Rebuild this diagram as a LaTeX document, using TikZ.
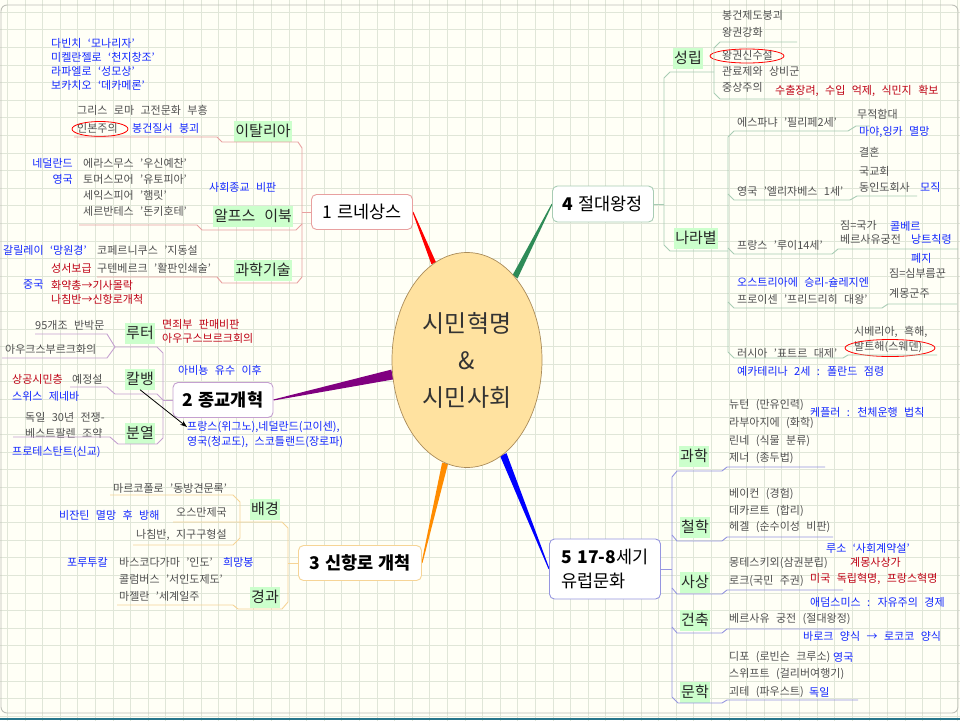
\documentclass[tikz,border=0pt]{standalone}
\usepackage{fontspec}
\setmainfont{Noto Sans CJK KR}[WordSpace=2.6]
\newfontfamily\topicfont{Noto Sans CJK KR}[WordSpace=1.3]
\usetikzlibrary{shapes.geometric,calc,arrows.meta,backgrounds}
\definecolor{paper}{RGB}{255,255,246}
\definecolor{gridc}{RGB}{224,230,216}
\definecolor{framec}{RGB}{190,192,184}
\definecolor{stripc}{RGB}{40,118,140}
\definecolor{txtgray}{RGB}{80,80,80}
\definecolor{txtblue}{RGB}{20,40,255}
\definecolor{txtred}{RGB}{190,0,20}
\definecolor{subfill}{RGB}{204,255,204}
\definecolor{corefill}{RGB}{255,226,160}
\definecolor{coreline}{RGB}{170,140,90}
\definecolor{renline}{RGB}{232,160,160}
\definecolor{refline}{RGB}{196,160,208}
\definecolor{routeline}{RGB}{246,212,150}
\definecolor{absline}{RGB}{168,204,180}
\definecolor{culline}{RGB}{150,150,224}
\definecolor{wgreen}{RGB}{46,139,87}
\definecolor{wpurple}{RGB}{128,0,128}
\definecolor{worange}{RGB}{255,140,0}

\begin{document}
\begin{tikzpicture}[x=1pt,y=-1pt,
  gt/.style={anchor=west, inner sep=0pt, text=txtgray, font=\fontsize{11}{13}\selectfont},
  bt/.style={gt, text=txtblue},
  rt/.style={gt, text=txtred},
  sub/.style={fill=subfill, inner xsep=1.5pt, inner ysep=3.5pt, minimum height=21pt,
    text=black!85, font=\fontsize{15}{17}\selectfont},
  topic/.style={rectangle, rounded corners=5pt, fill=white, line width=0.9pt,
    inner sep=4pt, font=\topicfont\fontsize{17.5}{24}\selectfont},
  twig/.style={line width=0.9pt},
  ring/.style={ellipse, draw=red, line width=0.8pt, inner sep=0pt}
]
\useasboundingbox (0,0) rectangle (960,720);

% 중심
\node[ellipse, fill=corefill, draw=coreline, line width=0.7pt, minimum width=150pt,
  minimum height=215pt, align=center, text=black!80,
  font=\fontsize{24}{37}\selectfont] (core) at (467,360) {시민혁명\\\&\\시민사회};

% 다섯 갈래
\node[topic, draw=renline, minimum width=101pt, minimum height=35pt] (ren) at (362,212) {1 르네상스};
\node[topic, draw=refline, minimum width=100pt, minimum height=35pt, font=\topicfont\fontsize{17.5}{24}\selectfont\bfseries] (ref) at (223,400) {2 종교개혁};
\node[topic, draw=routeline, minimum width=123pt, minimum height=35pt, font=\topicfont\fontsize{17.5}{24}\selectfont\bfseries] (route) at (360,563) {3 신항로 개척};
\node[topic, draw=absline, minimum width=101pt, minimum height=36pt] (abs) at (603,204) {\textbf{4} 절대왕정};
\node[topic, draw=culline, minimum width=111pt, minimum height=60pt, align=left] (cul) at (605,569) {\textbf{5 17-8}세기\\유럽문화};

\begin{scope}[on background layer]
  \fill[paper] (0,0) rectangle (960,720);
  \draw[gridc, line width=0.6pt, shift={(7.3,12)}] (-20,720) grid[step=17.6pt] (960,-20);
  \draw[framec, line width=0.9pt, rounded corners=6pt] (1,5) rectangle (958,713);
  \fill[stripc] (0,717.5) rectangle (960,720);
  \fill[red] ($(ren.east)!0.5pt!90:(core.109)$) -- ($(ren.east)!0.5pt!-90:(core.109)$)
    -- ($(core.109)!2.5pt!90:(ren.east)$) -- ($(core.109)!2.5pt!-90:(ren.east)$) -- cycle;
  \fill[wgreen] ($(abs.west)!0.5pt!90:(core.60)$) -- ($(abs.west)!0.5pt!-90:(core.60)$)
    -- ($(core.60)!3pt!90:(abs.west)$) -- ($(core.60)!3pt!-90:(abs.west)$) -- cycle;
  \fill[wpurple] ($(ref.east)!0.5pt!90:(core.191)$) -- ($(ref.east)!0.5pt!-90:(core.191)$)
    -- ($(core.191)!5pt!90:(ref.east)$) -- ($(core.191)!5pt!-90:(ref.east)$) -- cycle;
  \fill[worange] ($(route.east)!0.5pt!90:(core.258)$) -- ($(route.east)!0.5pt!-90:(core.258)$)
    -- ($(core.258)!3pt!90:(route.east)$) -- ($(core.258)!3pt!-90:(route.east)$) -- cycle;
  \fill[blue] ($(cul.west)!0.5pt!90:(core.291)$) -- ($(cul.west)!0.5pt!-90:(core.291)$)
    -- ($(core.291)!3.5pt!90:(cul.west)$) -- ($(core.291)!3.5pt!-90:(cul.west)$) -- cycle;
\end{scope}

% 1 르네상스
\node[sub] (ita) at (263,131) {이탈리아};
\node[sub] (alps) at (253,216) {알프스 이북};
\node[sub] (tech) at (263,270) {과학기술};
\node[bt] (art1) at (51,43) {다빈치 ‘모나리자’};
\node[bt] (art2) at (51,57) {미켈란젤로 ‘천지창조’};
\node[bt] (art3) at (51,71) {라파엘로 ‘성모상’};
\node[bt] (art4) at (51,85) {보카치오 ‘데카메론’};
\node[gt] (ita1) at (77,110) {그리스 로마 고전문화 부흥};
\node[gt] (ita2) at (77,128) {인본주의};
\node[bt] (ita3) at (132,128) {봉건질서 붕괴};
\node[ring, minimum width=56pt, minimum height=15pt] (ring1) at (100,129) {};
\node[bt, anchor=east] (nl) at (73,163) {네덜란드};
\node[bt, anchor=east] (uk) at (73,179) {영국};
\node[gt] (alp1) at (83,163) {에라스무스 '우신예찬'};
\node[gt] (alp2) at (83,179) {토머스모어 '유토피아'};
\node[gt] (alp3) at (83,195) {세익스피어 '햄릿'};
\node[gt] (alp4) at (83,211) {세르반테스 '돈키호테'};
\node[bt] (alp5) at (209,187) {사회종교 비판};
\node[bt] (tec1) at (3,250) {갈릴레이 ‘망원경’};
\node[gt] (tec2) at (97,250) {코페르니쿠스 '지동설};
\node[rt] (tec3) at (51,268) {성서보급};
\node[gt] (tec4) at (97,268) {구텐베르크 '활판인쇄술'};
\node[bt] (tec5) at (23,285) {중국};
\node[rt] (tec6) at (51,285) {화약총→기사몰락};
\node[rt] (tec7) at (51,299) {나침반→신항로개척};
\draw[twig, renline] (74,137) -- (217,137) -- (222,142) -- (298,142) -- (302,148) -- (302,277)
  -- (297,283) -- (222,283) -- (217,277) -- (97,277);
\draw[twig, renline] (79,225) -- (197,225) -- (202,230) -- (296,230) -- (302,224);
\draw[twig, renline] (ren.west) -- (302,212);

% 2 종교개혁
\node[sub] (luther) at (140,333) {루터};
\node[sub] (calvin) at (140,379) {칼뱅};
\node[sub] (split) at (140,433) {분열};
\node[gt] (lut1) at (35,325) {95개조 반박문};
\node[gt] (lut2) at (5,349) {아우크스부르크화의};
\node[rt] (lut3) at (162,324) {면죄부 판매비판};
\node[rt] (lut4) at (162,338) {아우구스브르크회의};
\node[rt] (cal1) at (12,379) {상공시민층};
\node[gt] (cal2) at (72,379) {예정설};
\node[bt] (cal3) at (12,396) {스위스 제네바};
\node[bt] (avi) at (178,370) {아비뇽 유수 이후};
\node[bt] (spread1) at (187,427) {프랑스(위그노),네덜란드(고이센),};
\node[bt] (spread2) at (187,442) {영국(청교도), 스코틀랜드(장로파)};
\node[gt] (spl1) at (25,417) {독일 30년 전쟁-};
\node[gt] (spl2) at (25,433) {베스트팔렌 조약};
\node[bt] (spl3) at (12,452) {프로테스탄트(신교)};
\draw[twig, refline] (35,334) -- (107,334) -- (115,347) -- (157,347) -- (163,353) -- (163,438)
  -- (157,444) -- (118,444) -- (110,437) -- (13,437);
\draw[twig, refline] (2,358) -- (107,358) -- (115,347);
\draw[twig, refline] (70,387) -- (107,387) -- (115,394) -- (157,394) -- (163,400);
\draw[twig, refline] (ref.west) -- (163,400);
\draw[-{Stealth[length=7pt,width=5pt]}, line width=0.8pt] (calvin.south) -- (spread1.west);

% 3 신항로 개척
\node[sub] (cause) at (265,509) {배경};
\node[sub] (course) at (265,597) {경과};
\node[gt] (cau1) at (113,488) {마르코폴로 '동방견문록'};
\node[gt] (cau2) at (176,512) {오스만제국};
\node[bt] (cau3) at (59,515) {비잔틴 멸망 후 방해};
\node[gt] (cau4) at (136,535) {나침반, 지구구형설};
\node[bt] (cou1) at (67,562) {포루투칼};
\node[gt] (cou2) at (119,562) {바스코다가마 '인도'};
\node[bt] (cou3) at (223,562) {희망봉};
\node[gt] (cou4) at (119,579) {콜럼버스 '서인도제도'};
\node[gt] (cou5) at (119,596) {마젤란 '세계일주};
\draw[twig, routeline] (110,495) -- (233,495) -- (240,502) -- (240,538) -- (233,545) -- (133,545);
\draw[twig, routeline] (173,522) -- (282,522) -- (288,528) -- (288,602) -- (282,609) -- (238,609)
  -- (233,605) -- (117,605);
\draw[twig, routeline] (route.west) -- (288,563);

% 4 절대왕정
\node[sub] (rise) at (688,58) {성립};
\node[sub] (land) at (696,238) {나라별};
\node[gt] (ris1) at (722,15) {봉건제도붕괴};
\node[gt] (ris2) at (722,32) {왕권강화};
\node[gt] (ris3) at (722,55) {왕권신수설};
\node[ring, minimum width=74pt, minimum height=14pt] (ring2) at (747,56) {};
\node[gt] (ris4) at (722,71) {관료제와 상비군};
\node[gt] (ris5) at (722,87) {중상주의};
\node[rt] (ris6) at (775,91) {수출장려, 수입 억제, 식민지 확보};
\node[gt] (spa) at (737,122) {에스파냐 '필리페2세'};
\node[gt] (spa1) at (857,114) {무적함대};
\node[bt] (spa2) at (859,132) {마야,잉카 멸망};
\node[gt] (eng) at (737,191) {영국 '엘리자베스 1세'};
\node[gt] (eng1) at (859,152) {결혼};
\node[gt] (eng2) at (859,171) {국교회};
\node[gt] (eng3) at (859,187) {동인도회사};
\node[bt] (eng4) at (920,187) {모직};
\node[gt] (fra) at (737,245) {프랑스 '루이14세'};
\node[gt] (fra1) at (840,225) {짐=국가};
\node[bt] (fra2) at (890,226) {콜베르};
\node[gt] (fra3) at (840,239) {베르사유궁전};
\node[bt] (fra4) at (911,239) {낭트칙령};
\node[bt] (fra5) at (911,258) {폐지};
\node[bt] (pru0) at (737,282) {오스트리아에 승리-슐레지엔};
\node[gt] (pru) at (737,299) {프로이센 '프리드리히 대왕'};
\node[gt] (pru1) at (889,273) {짐=심부름꾼};
\node[gt] (pru2) at (889,293) {계몽군주};
\node[gt] (rus) at (737,353) {러시아 '표트르 대제'};
\node[gt] (rus1) at (854,332) {시베리아, 흑해,};
\node[gt] (rus2) at (854,347) {발트해(스웨덴)};
\node[ring, minimum width=90pt, minimum height=17pt] (ring3) at (890,348) {};
\node[bt] (rus3) at (737,371) {예카테리나 2세 : 폴란드 점령};
\draw[twig, absline] (797,42) -- (720,42) -- (714,48) -- (714,93) -- (720,99) -- (810,99);
\draw[twig, absline] (714,72) -- (670,72) -- (664,78) -- (664,245) -- (670,251) -- (728,251);
\draw[twig, absline] (abs.east) -- (664,204);
\draw[twig, absline] (870,126) -- (856,126) -- (848,131) -- (734,131) -- (728,137) -- (728,352)
  -- (734,358) -- (843,358) -- (848,355) -- (937,355);
\draw[twig, absline] (728,194) -- (734,200) -- (850,200) -- (857,196) -- (917,196);
\draw[twig, absline] (728,248) -- (734,254) -- (832,254) -- (838,249) -- (958,249);
\draw[twig, absline] (728,302) -- (734,308) -- (882,308) -- (888,304) -- (957,304);

% 5 17-8세기 유럽문화
\node[sub] (sci) at (694,456) {과학};
\node[sub] (phil) at (695,527) {철학};
\node[sub] (idea) at (695,582) {사상};
\node[sub] (arch) at (695,620) {건축};
\node[sub] (lit) at (695,692) {문학};
\node[gt] (sci1) at (729,405) {뉴턴 (만유인력)};
\node[gt] (sci2) at (729,423) {라부아지에 (화학)};
\node[gt] (sci3) at (729,441) {린네 (식물 분류)};
\node[gt] (sci4) at (729,458) {제너 (종두법)};
\node[bt] (sci5) at (810,412) {케플러 : 천체운행 법칙};
\node[gt] (phi1) at (729,494) {베이컨 (경험)};
\node[gt] (phi2) at (729,511) {데카르트 (합리)};
\node[gt] (phi3) at (729,527) {헤겔 (순수이성 비판)};
\node[bt] (ide1) at (826,548) {루소 ‘사회계약설’};
\node[rt] (ide2) at (850,562) {계몽사상가};
\node[gt] (ide3) at (729,563) {몽테스키외(삼권분립)};
\node[gt] (ide4) at (729,581) {로크(국민 주권)};
\node[rt] (ide5) at (810,579) {미국 독립혁명, 프랑스혁명};
\node[bt] (ide6) at (810,602) {애덤스미스 : 자유주의 경제};
\node[gt] (arc1) at (729,619) {베르사유 궁전 (절대왕정)};
\node[bt] (arc2) at (803,636) {바로크 양식 → 로코코 양식};
\node[gt] (lit1) at (729,657) {디포 (로빈슨 크루소)};
\node[bt] (lit2) at (833,657) {영국};
\node[gt] (lit3) at (729,674) {스위프트 (걸리버여행기)};
\node[gt] (lit4) at (729,692) {괴테 (파우스트)};
\node[bt] (lit5) at (809,692) {독일};
\draw[twig, culline] (825,467) -- (727,467) -- (722,471) -- (677,471) -- (672,477) -- (672,697)
  -- (678,703) -- (722,703) -- (727,700) -- (858,700);
\draw[twig, culline] (672,535) -- (677,541) -- (722,541) -- (727,537) -- (833,537);
\draw[twig, culline] (672,588) -- (677,594) -- (722,594) -- (727,590) -- (843,590);
\draw[twig, culline] (672,627) -- (677,633) -- (722,633) -- (727,629) -- (843,629);
\draw[twig, culline] (cul.east) -- (672,569);

\end{tikzpicture}
\end{document}
